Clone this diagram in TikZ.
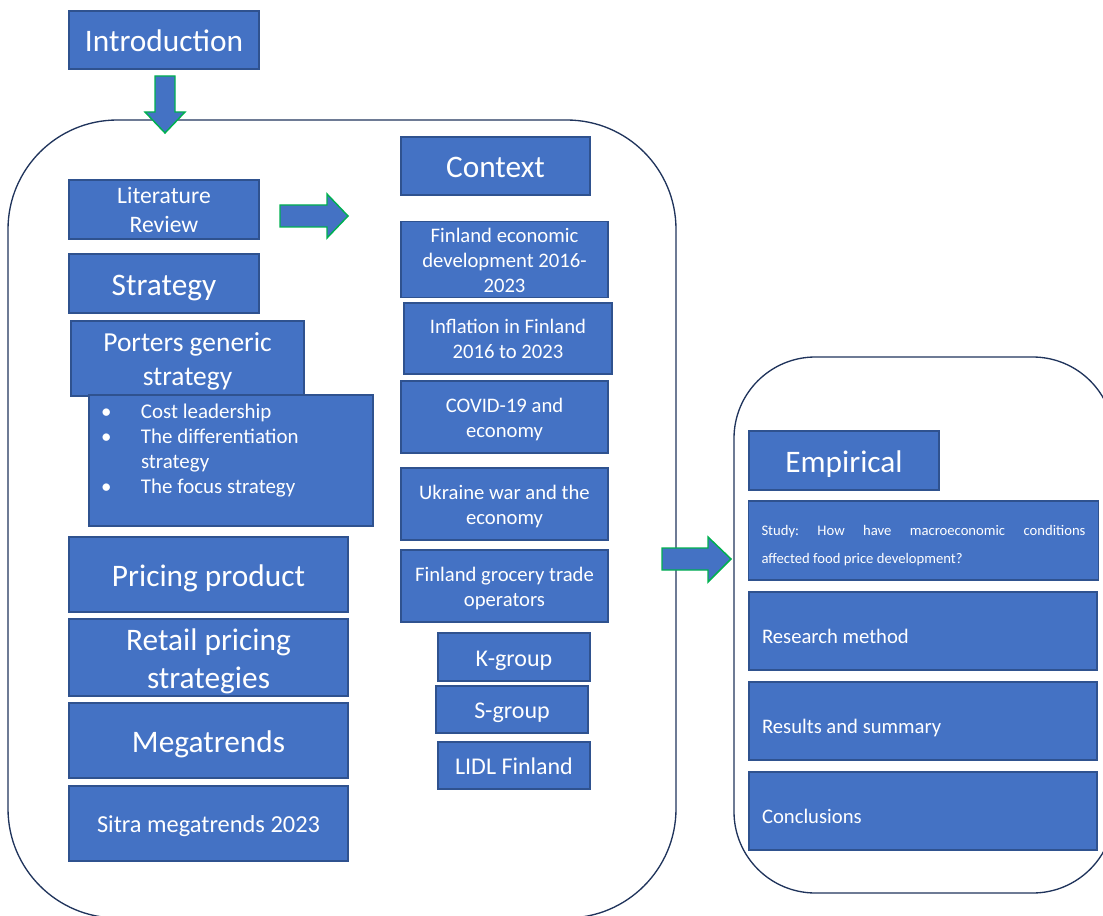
\documentclass[tikz,border=0pt]{standalone}
\usepackage{fontspec}
\setmainfont{Carlito}
\usetikzlibrary{arrows.meta}
\definecolor{BoxBlue}{RGB}{68,114,196}
\definecolor{BoxEdge}{RGB}{47,82,143}
\definecolor{FrameNavy}{RGB}{32,52,92}
\definecolor{ArrowGreen}{RGB}{0,176,80}
\frenchspacing

\begin{document}
\begin{tikzpicture}[x=0.75pt, y=-0.75pt,
    blk/.style={draw=BoxEdge, line width=1.1pt, fill=BoxBlue, text=white, align=center, inner sep=0pt,
      execute at begin node={\rule{0pt}{1em}},
      execute at end node={\rule[-0.24em]{0pt}{0.24em}}},
    lowtxt/.style={execute at begin node={\rule{0pt}{1.42em}}},
    wh/.style 2 args={minimum width=#1*0.75pt, minimum height=#2*0.75pt},
    wrap/.style={text width=#1*0.75pt, align=flush center},
    bigtxt/.style={font=\fontsize{23.5}{28.5}\selectfont},
    midtxt/.style={font=\fontsize{15.5}{18.75}\selectfont},
    lefttxt/.style={align=flush left, text width=241.5pt, inner xsep=9.75pt, lowtxt},
    barrow/.style={draw=ArrowGreen, line width=1.1pt, fill=BoxBlue, line join=miter},
    frame/.style={draw=FrameNavy, line width=1pt}]
  \useasboundingbox (0,0) rectangle (1103,916);

  % the two chapter frames
  \draw[frame, rounded corners=82pt] (8,120) rectangle (676,918);
  \draw[frame, rounded corners=61pt] (734,357) rectangle (1114,893);

  % left column: theory
  \node[blk, wh={190}{58}, bigtxt] (intro) at (164,40) {Introduction};
  \node[blk, wh={190}{59}, wrap=190, font=\fontsize{17.7}{21.75}\selectfont] (litRev) at (164,209.5) {Literature\\Review};
  \node[blk, wh={190}{59}, bigtxt] (strat) at (164,283.5) {Strategy};
  \node[blk, wh={233}{75}, wrap=233, font=\fontsize{20.6}{25.5}\selectfont] (porter) at (187.5,358.5) {Porters generic\\strategy};
  \node[blk, wh={284}{131}, align=flush left, text width=189pt, inner xsep=12pt,
        font=\fontsize{15.7}{18.75}\selectfont] (porterList) at (231,460.5)
       {\makebox[27pt][l]{\hspace{-3pt}\textbullet}Cost leadership\\
        \makebox[27pt][l]{\hspace{-3pt}\textbullet}The differentiation\\
        \hspace*{27pt}strategy\\
        \makebox[27pt][l]{\hspace{-3pt}\textbullet}The focus strategy\\\mbox{}};
  \node[blk, wh={279}{75}, bigtxt] (pricing) at (208.5,574.5) {Pricing product};
  \node[blk, wh={279}{75}, wrap=279, bigtxt] (retail) at (208.5,657.5) {Retail pricing\\strategies};
  \node[blk, wh={279}{75}, bigtxt] (mega) at (208.5,740.5) {Megatrends};
  \node[blk, wh={279}{75}, font=\fontsize{18.3}{22}\selectfont] (sitra) at (208.5,823.5) {Sitra megatrends 2023};

  % middle column: context
  \node[blk, wh={189}{58}, bigtxt] (context) at (495.5,166) {Context};
  \node[blk, wh={207}{73}, wrap=207, midtxt] (finDev) at (504.5,259.5) {Finland economic\\development 2016-\\2023};
  \node[blk, wh={208}{71}, wrap=208, midtxt] (inflation) at (508,338.5) {Inflation in Finland\\2016 to 2023};
  \node[blk, wh={207}{72}, wrap=207, midtxt] (covid) at (504.5,417) {COVID-19 and\\economy};
  \node[blk, wh={207}{72}, wrap=207, midtxt] (ukraine) at (504.5,504) {Ukraine war and the\\economy};
  \node[blk, wh={207}{72}, wrap=207, midtxt] (grocery) at (504.5,586) {Finland grocery trade\\operators};
  \node[blk, wh={152}{48}, font=\fontsize{18}{22}\selectfont] (kGroup) at (514,657) {K-group};
  \node[blk, wh={152}{47}, font=\fontsize{18}{22}\selectfont] (sGroup) at (512,709.5) {S-group};
  \node[blk, wh={152}{47}, font=\fontsize{18}{22}\selectfont] (lidl) at (514,765.5) {LIDL Finland};

  % right frame: empirical part
  \node[blk, wh={190}{59}, bigtxt] (empirical) at (844,460.5) {Empirical};
  \node[blk, wh={349}{79}, align=justify, text width=243pt, inner xsep=9.75pt, lowtxt,
        font=\fontsize{11}{21}\selectfont] (study) at (923.5,540.5)
       {Study: How have macroeconomic conditions\linebreak affected food price development?};
  \node[blk, wh={348}{78}, lefttxt, midtxt] (method) at (923,631) {Research method};
  \node[blk, wh={348}{78}, lefttxt, midtxt] (results) at (923,721) {Results and summary};
  \node[blk, wh={348}{78}, lefttxt, midtxt] (concl) at (923,811) {Conclusions};

  % block arrows
  \draw[barrow] (155,76) -- (175,76) -- (175,112) -- (185,112) -- (165,133) -- (145,112) -- (155,112) -- cycle;
  \draw[barrow] (280,205) -- (327,205) -- (327,194) -- (348,216) -- (327,238) -- (327,227) -- (280,227) -- cycle;
  \draw[barrow] (662,548) -- (708,548) -- (708,537) -- (731,559) -- (708,582) -- (708,570) -- (662,570) -- cycle;
\end{tikzpicture}
\end{document}
